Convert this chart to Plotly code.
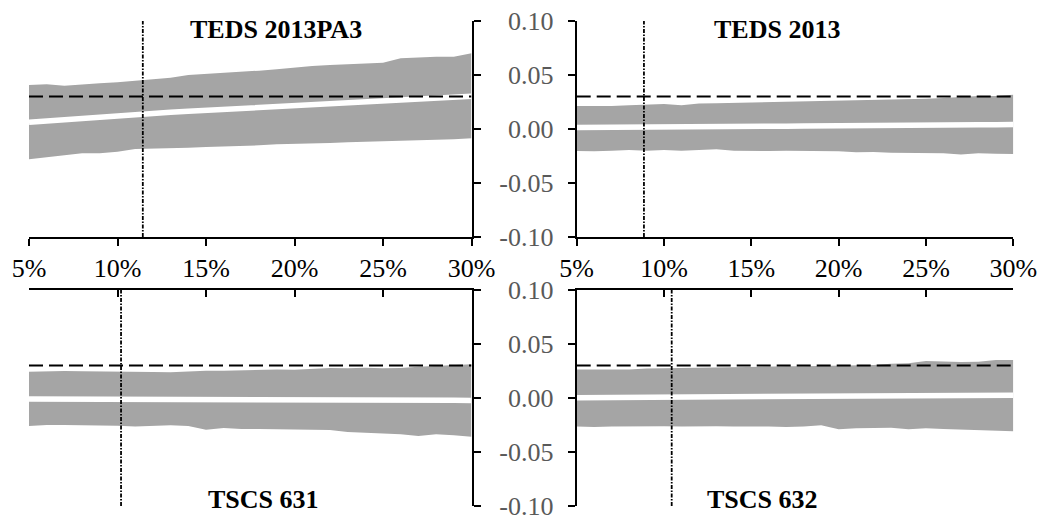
import plotly.graph_objects as go

# ---------------- data ----------------
X_PCT = [5, 6, 7, 8, 9, 10, 11, 12, 13, 14, 15, 16, 17, 18, 19, 20,
         21, 22, 23, 24, 25, 26, 27, 28, 29, 30]
X_TICKS = [5, 10, 15, 20, 25, 30]
X_TICK_TEXT = ["5%", "10%", "15%", "20%", "25%", "30%"]
Y_TICKS = [-0.10, -0.05, 0.00, 0.05, 0.10]
Y_TICK_TEXT = ["-0.10", "-0.05", "0.00", "0.05", "0.10"]

PANEL_TITLES = ["TEDS 2013PA3", "TEDS 2013", "TSCS 631", "TSCS 632"]
THRESHOLD = [0.03, 0.03, 0.03, 0.03]
CUTOFF = [11.43, 8.85, 10.2, 10.44]

TL_upper = [0.0407, 0.0414, 0.0401, 0.0414, 0.0423, 0.0432, 0.0447, 0.0460, 0.0475, 0.0500,
            0.0509, 0.0516, 0.0525, 0.0540, 0.0553, 0.0571, 0.0583, 0.0593, 0.0599, 0.0608,
            0.0614, 0.0654, 0.0664, 0.0670, 0.0670, 0.0701]
TL_est = [0.0062, 0.0075, 0.0088, 0.0100, 0.0112, 0.0125, 0.0137, 0.0146, 0.0155, 0.0164,
          0.0173, 0.0182, 0.0191, 0.0200, 0.0208, 0.0217, 0.0226, 0.0234, 0.0243, 0.0252,
          0.0260, 0.0269, 0.0278, 0.0286, 0.0295, 0.0304]
TL_lower = [-0.0281, -0.0262, -0.0244, -0.0225, -0.0225, -0.0210, -0.0185, -0.0182, -0.0182, -0.0173,
            -0.0167, -0.0164, -0.0157, -0.0151, -0.0142, -0.0139, -0.0139, -0.0130, -0.0123, -0.0117,
            -0.0114, -0.0108, -0.0105, -0.0099, -0.0096, -0.0086]

TR_upper = [0.0213, 0.0210, 0.0213, 0.0219, 0.0225, 0.0232, 0.0219, 0.0235, 0.0238, 0.0241,
            0.0244, 0.0247, 0.0250, 0.0253, 0.0256, 0.0265, 0.0269, 0.0269, 0.0275, 0.0278,
            0.0281, 0.0287, 0.0299, 0.0306, 0.0306, 0.0318]
TR_est = [0.0014, 0.0014, 0.0016, 0.0017, 0.0017, 0.0019, 0.0018, 0.0021, 0.0022, 0.0023,
          0.0023, 0.0025, 0.0026, 0.0027, 0.0027, 0.0029, 0.0030, 0.0031, 0.0031, 0.0033,
          0.0034, 0.0035, 0.0037, 0.0039, 0.0040, 0.0042]
TR_lower = [-0.0204, -0.0207, -0.0201, -0.0194, -0.0201, -0.0194, -0.0201, -0.0194, -0.0188, -0.0201,
            -0.0204, -0.0204, -0.0201, -0.0204, -0.0201, -0.0207, -0.0216, -0.0213, -0.0219, -0.0219,
            -0.0225, -0.0225, -0.0235, -0.0225, -0.0230, -0.0232]

BL_upper = [0.0244, 0.0250, 0.0250, 0.0247, 0.0247, 0.0244, 0.0244, 0.0241, 0.0238, 0.0247,
            0.0253, 0.0253, 0.0259, 0.0259, 0.0265, 0.0262, 0.0272, 0.0278, 0.0275, 0.0281,
            0.0275, 0.0278, 0.0290, 0.0296, 0.0306, 0.0312]
BL_est = [-0.0009, -0.0009, -0.0010, -0.0010, -0.0011, -0.0011, -0.0012, -0.0012, -0.0013, -0.0013,
          -0.0014, -0.0014, -0.0015, -0.0015, -0.0016, -0.0016, -0.0017, -0.0017, -0.0018, -0.0018,
          -0.0019, -0.0019, -0.0020, -0.0021, -0.0021, -0.0022]
BL_lower = [-0.0259, -0.0250, -0.0250, -0.0253, -0.0250, -0.0256, -0.0265, -0.0259, -0.0253, -0.0259,
            -0.0293, -0.0278, -0.0287, -0.0287, -0.0290, -0.0296, -0.0296, -0.0296, -0.0315, -0.0321,
            -0.0324, -0.0336, -0.0352, -0.0336, -0.0346, -0.0358]

BR_upper = [0.0265, 0.0265, 0.0262, 0.0265, 0.0272, 0.0275, 0.0281, 0.0284, 0.0284, 0.0287,
            0.0287, 0.0290, 0.0293, 0.0293, 0.0296, 0.0299, 0.0303, 0.0306, 0.0318, 0.0321,
            0.0343, 0.0336, 0.0333, 0.0336, 0.0352, 0.0352]
BR_est = [0.0003, 0.0004, 0.0005, 0.0006, 0.0007, 0.0007, 0.0008, 0.0009, 0.0010, 0.0011,
          0.0012, 0.0013, 0.0013, 0.0014, 0.0015, 0.0016, 0.0017, 0.0018, 0.0019, 0.0020,
          0.0021, 0.0022, 0.0023, 0.0024, 0.0025, 0.0026]
BR_lower = [-0.0265, -0.0269, -0.0265, -0.0262, -0.0259, -0.0262, -0.0265, -0.0262, -0.0262, -0.0265,
            -0.0262, -0.0265, -0.0269, -0.0265, -0.0253, -0.0290, -0.0281, -0.0278, -0.0275, -0.0290,
            -0.0281, -0.0287, -0.0293, -0.0299, -0.0299, -0.0309]

PANELS = [
    (TL_upper, TL_est, TL_lower),
    (TR_upper, TR_est, TR_lower),
    (BL_upper, BL_est, BL_lower),
    (BR_upper, BR_est, BR_lower),
]

# ---------------- layout geometry (pixels) ----------------
W, H = 1039, 515
SERIF = "Liberation Serif, Times New Roman, serif"
GRAY = "#A5A5A5"
LABEL_GRAY = "#595959"


def xd(a, b):
    return [a / W, b / W]


def yd(top, bottom):
    return [1 - bottom / H, 1 - top / H]


X_DOM = [xd(29, 471.5), xd(576.7, 1013.3), xd(29, 471.5), xd(576.7, 1013.3)]
Y_DOM = [yd(21, 237), yd(21, 237), yd(290, 506), yd(290, 506)]
TITLE_POS = [(276, 30), (777, 30), (263, 499), (762, 499)]

fig = go.Figure()

for i, (up, est, lo) in enumerate(PANELS):
    xa = "x" if i == 0 else f"x{i+1}"
    ya = "y" if i == 0 else f"y{i+1}"
    fig.add_trace(go.Scatter(x=X_PCT, y=lo, mode="lines", line=dict(width=0, color=GRAY),
                             xaxis=xa, yaxis=ya, showlegend=False, hoverinfo="skip"))
    fig.add_trace(go.Scatter(x=X_PCT, y=up, mode="lines", line=dict(width=0, color=GRAY),
                             fill="tonexty", fillcolor=GRAY,
                             xaxis=xa, yaxis=ya, showlegend=False, hoverinfo="skip"))
    fig.add_trace(go.Scatter(x=X_PCT, y=est, mode="lines", line=dict(width=5.5, color="white"),
                             xaxis=xa, yaxis=ya, showlegend=False, hoverinfo="skip"))
    fig.add_trace(go.Scatter(x=[X_PCT[0], X_PCT[-1]], y=[THRESHOLD[i], THRESHOLD[i]], mode="lines",
                             line=dict(width=2, color="black", dash="14px,6px"),
                             xaxis=xa, yaxis=ya, showlegend=False, hoverinfo="skip"))
    fig.add_trace(go.Scatter(x=[CUTOFF[i], CUTOFF[i]], y=[Y_TICKS[0], Y_TICKS[-1]], mode="lines",
                             line=dict(width=1.8, color="black", dash="4px,1.5px,1.5px,1.5px"),
                             xaxis=xa, yaxis=ya, showlegend=False, hoverinfo="skip"))

    top_row = i < 2
    left_col = i % 2 == 0
    xkey = "xaxis" if i == 0 else f"xaxis{i+1}"
    ykey = "yaxis" if i == 0 else f"yaxis{i+1}"
    fig.update_layout({
        xkey: dict(
            domain=X_DOM[i], anchor=ya, range=[X_PCT[0], X_PCT[-1]],
            tickmode="array", tickvals=X_TICKS, ticktext=X_TICK_TEXT,
            side="bottom" if top_row else "top",
            ticks="outside" if top_row else "inside",
            ticklen=7, tickwidth=2, tickcolor="black",
            showline=True, linecolor="black", linewidth=2,
            showgrid=False, zeroline=False, automargin=False,
            showticklabels=top_row, ticklabeloverflow="allow",
            tickfont=dict(family=SERIF, size=26, color="black"),
        ),
        ykey: dict(
            domain=Y_DOM[i], anchor=xa, range=[Y_TICKS[0], Y_TICKS[-1]],
            tickmode="array", tickvals=Y_TICKS, ticktext=Y_TICK_TEXT,
            side="right" if left_col else "left",
            ticks="outside", ticklen=7, tickwidth=2, tickcolor="black",
            showline=True, linecolor="black", linewidth=2,
            showgrid=False, zeroline=False, automargin=False,
            showticklabels=not left_col, ticklabeloverflow="allow",
            ticklabelstandoff=9,
            tickfont=dict(family=SERIF, size=26, color=LABEL_GRAY),
        ),
    })
    tx, ty = TITLE_POS[i]
    fig.add_annotation(x=tx / W, y=1 - ty / H, xref="paper", yref="paper",
                       text=f"<b>{PANEL_TITLES[i]}</b>", showarrow=False,
                       xanchor="center", yanchor="middle",
                       font=dict(family=SERIF, size=26, color="black"))

fig.update_layout(
    width=W, height=H, autosize=False,
    margin=dict(l=0, r=0, t=0, b=0, pad=0, autoexpand=False),
    paper_bgcolor="white", plot_bgcolor="white",
    showlegend=False,
)

fig.write_html("out.html")
